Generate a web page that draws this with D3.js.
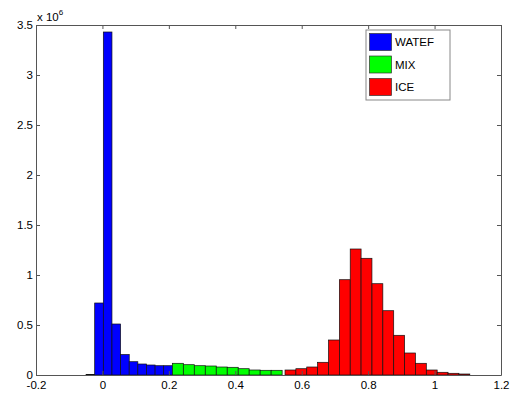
<!DOCTYPE html>
<html>
<head>
<meta charset="utf-8">
<script src="https://cdn.jsdelivr.net/npm/d3@7"></script>
<style>
  body { margin: 0; background: #fff; }
  svg { font-family: "Liberation Sans", Arial, sans-serif; }
</style>
</head>
<body>
<div id="chart"></div>
<script>
// histogram bins (centres) and counts in units of 1e6
const seriesNames = ['WATEF', 'MIX', 'ICE']
const seriesColors = ['#0000ff', '#00ff00', '#ff0000']

const waterCenters = [-0.0363, -0.0103, 0.0157, 0.0417, 0.0677, 0.0936, 0.1196, 0.1456, 0.1716, 0.1975]
const waterCounts = [0.005, 0.72, 3.43, 0.51, 0.205, 0.133, 0.11, 0.10, 0.093, 0.093]

const mixCenters = [0.2270, 0.2601, 0.2931, 0.3262, 0.3592, 0.3923, 0.4253, 0.4584, 0.4914, 0.5245]
const mixCounts = [0.117, 0.103, 0.093, 0.09, 0.08, 0.077, 0.063, 0.05, 0.047, 0.047]

const iceCenters = [0.5661, 0.5988, 0.6315, 0.6642, 0.6970, 0.7297, 0.7624, 0.7951, 0.8279,
  0.8606, 0.8933, 0.9260, 0.9588, 0.9915, 1.0242, 1.0569, 1.0897]
const iceCounts = [0.05, 0.063, 0.08, 0.127, 0.35, 0.953, 1.26, 1.167, 0.913, 0.643,
  0.397, 0.22, 0.117, 0.05, 0.027, 0.017, 0.01]

const xTicks = [-0.2, 0, 0.2, 0.4, 0.6, 0.8, 1, 1.2]
const yTicks = [0, 0.5, 1, 1.5, 2, 2.5, 3, 3.5]

const width = 515
const height = 394
const margin = { top: 25, right: 14, bottom: 19, left: 36 }
const w = width - margin.left - margin.right
const h = height - margin.top - margin.bottom

const svg = d3.select('#chart').append('svg')
  .attr('width', width)
  .attr('height', height)

const g = svg.append('g')
  .attr('transform', `translate(${margin.left},${margin.top})`)

const x = d3.scaleLinear().domain([-0.2, 1.2]).range([0, w])
const y = d3.scaleLinear().domain([0, 3.5]).range([h, 0])

const series = [
  { centers: waterCenters, counts: waterCounts },
  { centers: mixCenters, counts: mixCounts },
  { centers: iceCenters, counts: iceCounts }
]

series.forEach((s, i) => {
  const bw = s.centers[1] - s.centers[0]
  g.append('g').selectAll('rect')
    .data(s.centers.map((c, j) => ({ c, v: s.counts[j] })))
    .enter().append('rect')
    .attr('x', d => x(d.c - bw / 2))
    .attr('width', d => x(d.c + bw / 2) - x(d.c - bw / 2))
    .attr('y', d => y(d.v))
    .attr('height', d => h - y(d.v))
    .attr('fill', seriesColors[i])
    .attr('stroke', '#111')
    .attr('stroke-width', 0.7)
})

// axes, ticks pointing inwards
const fmt = d => String(d)
const axisColor = '#555'

const axBottom = g.append('g').attr('transform', `translate(0,${h})`)
  .call(d3.axisBottom(x).tickValues(xTicks).tickFormat(fmt).tickSizeInner(-4).tickSizeOuter(0).tickPadding(6))
const axTop = g.append('g')
  .call(d3.axisTop(x).tickValues(xTicks).tickFormat('').tickSizeInner(-4).tickSizeOuter(0))
const axLeft = g.append('g')
  .call(d3.axisLeft(y).tickValues(yTicks).tickFormat(fmt).tickSizeInner(-4).tickSizeOuter(0).tickPadding(3))
const axRight = g.append('g').attr('transform', `translate(${w},0)`)
  .call(d3.axisRight(y).tickValues(yTicks).tickFormat('').tickSizeInner(-4).tickSizeOuter(0))

;[axBottom, axTop, axLeft, axRight].forEach(a => {
  a.select('.domain').attr('stroke', axisColor)
  a.selectAll('.tick line').attr('stroke', axisColor)
  a.selectAll('text').attr('fill', '#000').style('font-size', '11.5px')
    .style('font-family', '"Liberation Sans", Arial, sans-serif')
})

// exponent label
const expo = svg.append('text')
  .attr('x', margin.left + 1)
  .attr('y', 21)
  .style('font-size', '11.5px')
  .text('x 10')
expo.append('tspan')
  .attr('dy', -6)
  .style('font-size', '8px')
  .text('6')

// legend
const legend = g.append('g').attr('transform', 'translate(330,5)')
legend.append('rect')
  .attr('width', 84).attr('height', 70)
  .attr('fill', '#fff').attr('stroke', '#888').attr('stroke-width', 1)

seriesNames.forEach((name, i) => {
  legend.append('rect')
    .attr('x', 3.5).attr('y', 3.5 + i * 22.5)
    .attr('width', 22).attr('height', 17)
    .attr('fill', seriesColors[i]).attr('stroke', '#333').attr('stroke-width', 0.7)
  legend.append('text')
    .attr('x', 29).attr('y', 16 + i * 22.5)
    .style('font-size', '11.5px')
    .text(name)
})
</script>
</body>
</html>
